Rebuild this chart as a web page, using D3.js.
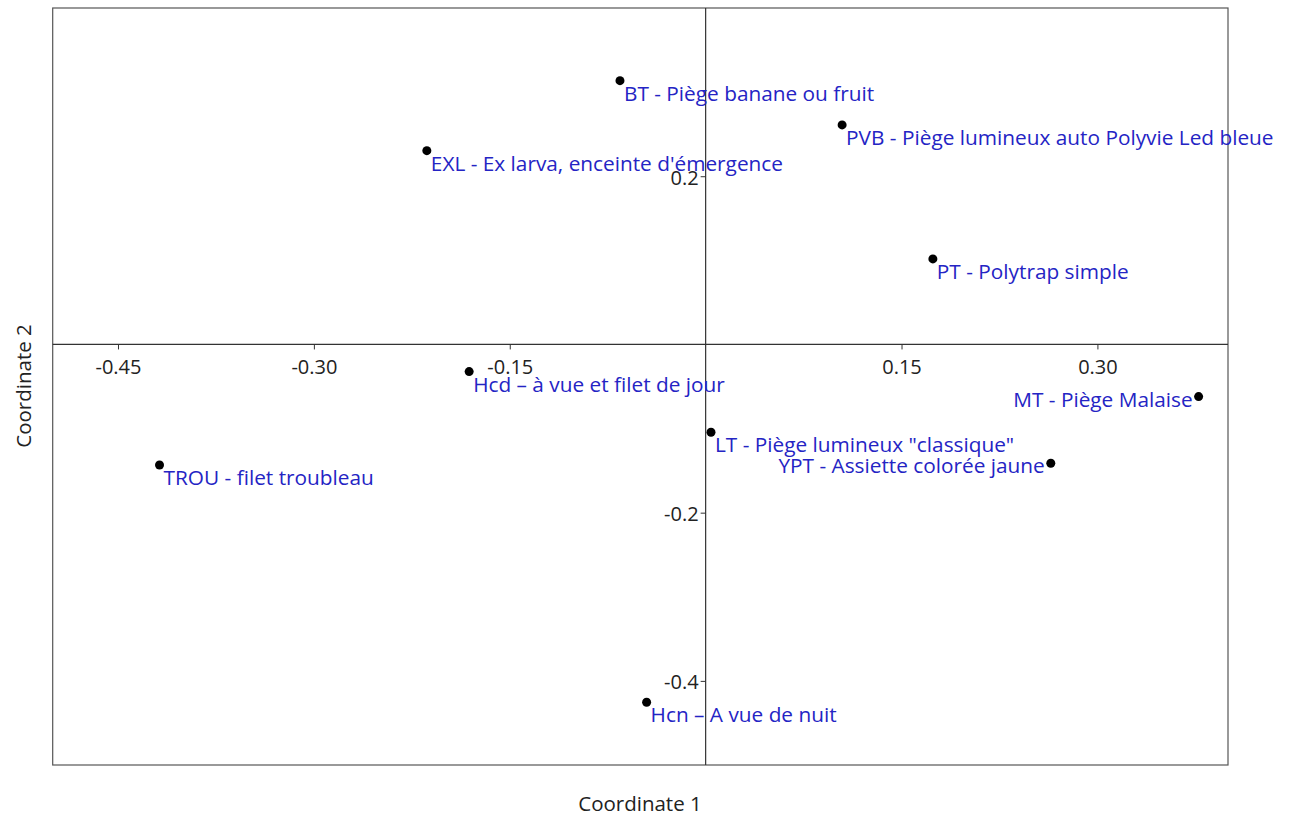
<!DOCTYPE html>
<html><head><meta charset="utf-8">
<script src="https://cdn.jsdelivr.net/npm/d3@7"></script>
<style>
body{margin:0;background:#fff;}
svg text{font-family:"Open Sans","Noto Sans",sans-serif;}
</style></head>
<body><svg id="c" width="1291" height="816"></svg>
<script>
const labels = ["BT - Piège banane ou fruit","PVB - Piège lumineux auto Polyvie Led bleue","EXL - Ex larva, enceinte d'émergence","PT - Polytrap simple","Hcd – à vue et filet de jour","MT - Piège Malaise","LT - Piège lumineux \"classique\"","YPT - Assiette colorée jaune","TROU - filet troubleau","Hcn – A vue de nuit"];
const coord1 = [-0.0656, 0.1045, -0.2135, 0.174, -0.1811, 0.3775, 0.0041, 0.2643, -0.4182, -0.0452];
const coord2 = [0.3136, 0.261, 0.2304, 0.1017, -0.0323, -0.062, -0.1044, -0.1413, -0.1433, -0.4254];
const labelSide = ["right","right","right","right","right","left","right","left","right","right"];
const xTicks = [-0.45,-0.30,-0.15,0.15,0.30];
const yTicks = [0.2,-0.2,-0.4];

const svg = d3.select("#c");
const L=52.7, R=1228, T=8, B=765;
const x = d3.scaleLinear().domain([-0.5,0.4]).range([L,R]);
const y = d3.scaleLinear().domain([-0.5,0.4]).range([B,T]);
const fmtMinus = f => d => f(d).replace("\u2212","-");

svg.append("rect").attr("x",L).attr("y",T).attr("width",R-L).attr("height",B-T)
  .attr("fill","none").attr("stroke","#555").attr("stroke-width",1.2);

const xAxis = d3.axisBottom(x).tickValues(xTicks).tickFormat(fmtMinus(d3.format(".2f"))).tickSize(5).tickPadding(10);
const gx = svg.append("g").attr("transform",`translate(0,${y(0)})`).call(xAxis);
gx.select(".domain").attr("d",`M${L},0H${R}`).attr("stroke","#333").attr("stroke-width",1.2);
gx.selectAll(".tick line").attr("stroke","#333");
gx.selectAll(".tick text").attr("font-size",20).attr("fill","#222").attr("font-family","Open Sans");

const yAxis = d3.axisLeft(y).tickValues(yTicks).tickFormat(fmtMinus(d3.format(".1f"))).tickSize(5).tickPadding(2);
const gy = svg.append("g").attr("transform",`translate(${x(0)},0)`).call(yAxis);
gy.select(".domain").attr("d",`M0,${T}V${B}`).attr("stroke","#333").attr("stroke-width",1.2);
gy.selectAll(".tick line").attr("stroke","#333");
gy.selectAll(".tick text").attr("font-size",20).attr("fill","#222").attr("font-family","Open Sans").attr("dy","0.4em");

const data = labels.map((l,i)=>({l, x:coord1[i], y:coord2[i], side:labelSide[i]}));
svg.selectAll("circle.pt").data(data).join("circle").attr("class","pt")
  .attr("cx",d=>x(d.x)).attr("cy",d=>y(d.y)).attr("r",4.5).attr("fill","#000");
svg.selectAll("text.lab").data(data).join("text").attr("class","lab")
  .attr("x",d=>d.side==="right"? x(d.x)+4 : x(d.x)-6)
  .attr("y",d=>d.side==="right"? y(d.y)+20 : y(d.y)+10)
  .attr("text-anchor",d=>d.side==="right"?"start":"end")
  .attr("font-size",20.8).attr("fill","#2424c4").text(d=>d.l);

svg.append("text").attr("x",640).attr("y",811).attr("text-anchor","middle")
  .attr("font-size",20.5).attr("fill","#222").text("Coordinate 1");
svg.append("text").attr("transform","translate(31,386) rotate(-90)").attr("text-anchor","middle")
  .attr("font-size",20.5).attr("fill","#222").text("Coordinate 2");
</script></body></html>
